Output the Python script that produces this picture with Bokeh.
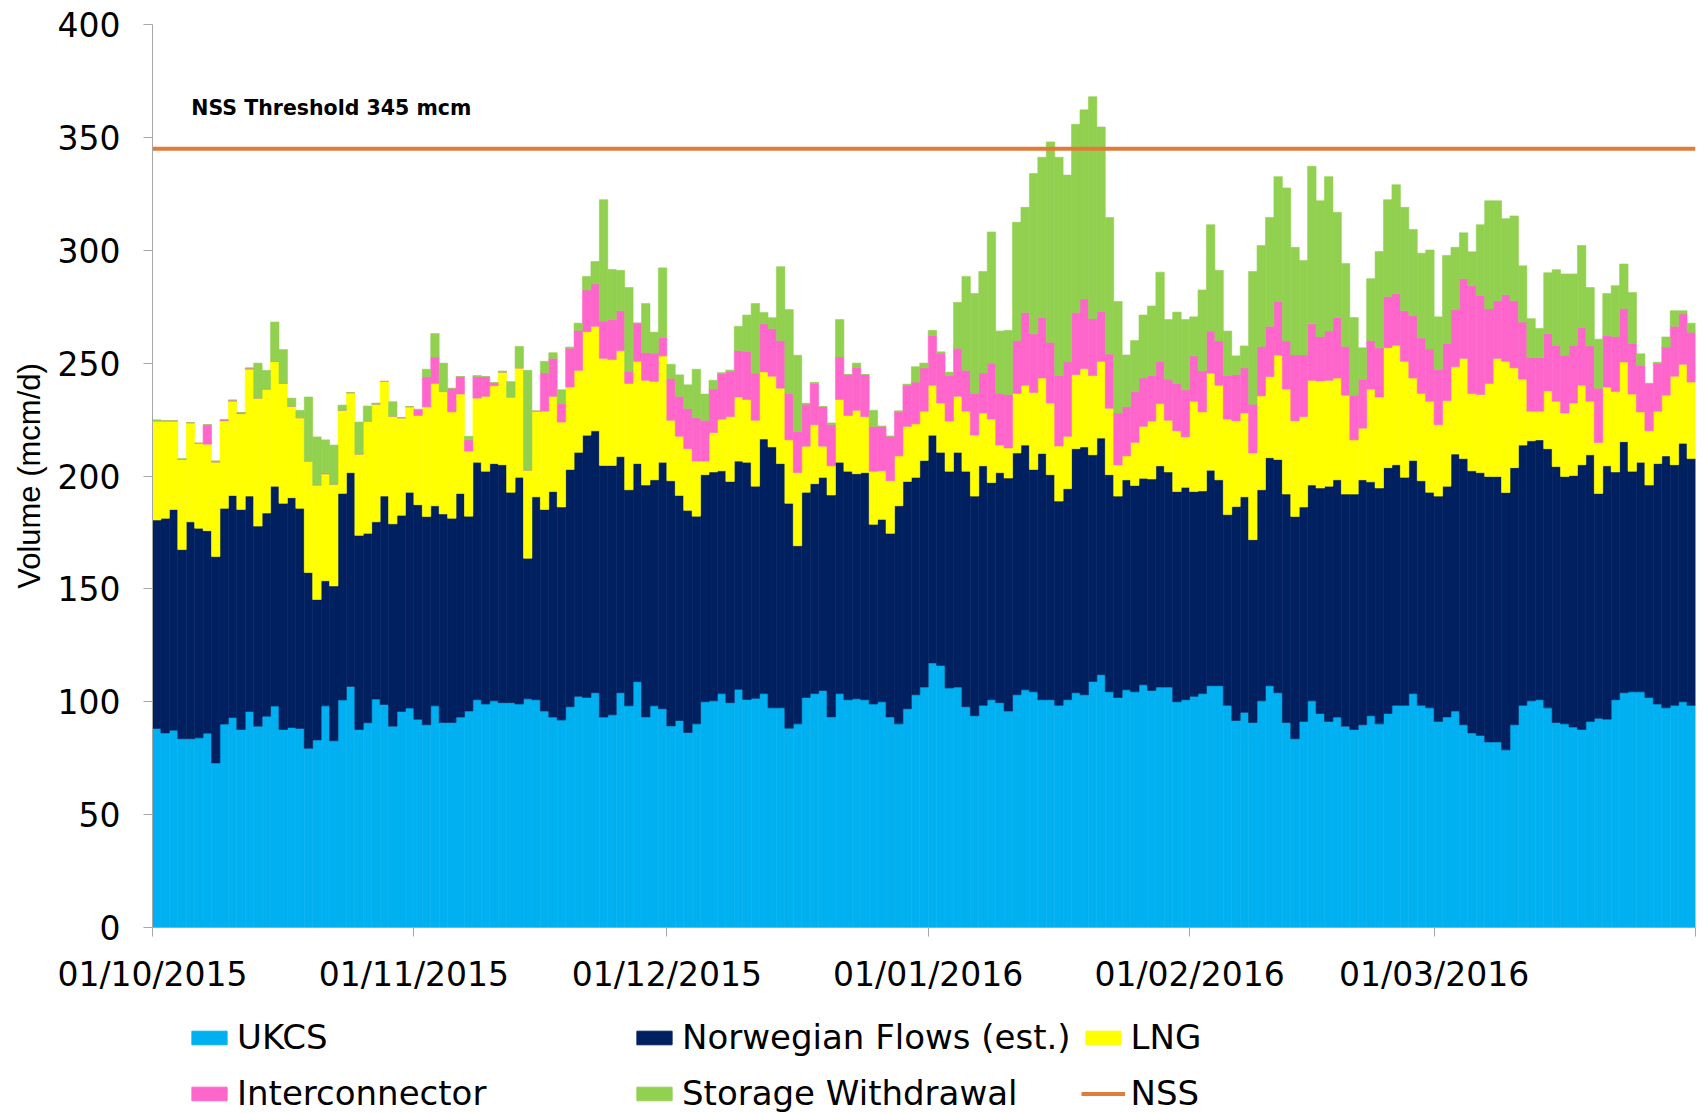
import numpy as np
from bokeh.plotting import figure
from bokeh.layouts import column
from bokeh.models import ColumnDataSource, FixedTicker, Range1d, Legend, LegendItem, Label
from bokeh.embed import file_html
from bokeh.resources import INLINE

# ---------------- data (mcm/d), daily 01/10/2015 .. 31/03/2016 ----------------
ukcs = [
    # Oct
    88.2, 86.2, 87.4, 83.6, 83.6, 84.0, 86.1, 72.9, 90.1, 93.0, 87.7, 95.7, 89.2, 93.6, 98.1, 87.7,
    88.6, 88.2, 79.4, 83.1, 98.2, 82.7, 100.8, 106.8, 87.7, 90.7, 101.2, 98.8, 89.2, 95.7, 97.2,
    # Nov
    92.2, 89.8, 98.2, 90.8, 90.8, 93.2, 95.9, 100.9, 99.0, 100.4, 99.6, 99.6, 99.0, 101.3, 100.9,
    95.9, 93.2, 91.9, 97.8, 102.4, 101.9, 104.0, 93.2, 94.2, 104.0, 98.2, 108.9, 93.3, 98.2, 96.9,
    # Dec
    89.3, 91.7, 86.4, 90.2, 100.0, 100.4, 103.6, 99.6, 105.5, 101.0, 101.5, 103.6, 97.3, 97.3, 88.3,
    90.2, 101.9, 103.6, 105.0, 93.3, 103.6, 100.9, 101.3, 100.9, 99.0, 100.0, 93.3, 90.2, 96.9, 103.1, 106.5,
    # Jan
    117.2, 116.1, 106.1, 106.5, 97.8, 93.8, 98.4, 100.9, 99.6, 95.9, 103.1, 105.3, 104.4, 100.9, 100.9,
    98.4, 100.9, 104.0, 103.1, 109.0, 112.0, 104.4, 101.9, 105.3, 104.4, 107.5, 105.0, 106.5, 106.5, 100.0, 100.9,
    # Feb
    102.4, 103.6, 107.1, 107.1, 98.4, 91.7, 95.3, 90.8, 100.4, 107.1, 104.0, 90.8, 83.6, 91.3, 100.4,
    94.8, 91.3, 93.2, 89.2, 87.7, 89.8, 93.8, 90.2, 94.8, 98.4, 98.4, 103.6, 98.4, 97.3,
    # Mar
    91.3, 93.3, 95.9, 89.8, 86.2, 85.1, 82.2, 82.2, 78.7, 89.8, 98.4, 100.4, 100.9, 97.3, 90.8, 90.2,
    88.8, 87.7, 91.3, 92.7, 92.3, 100.9, 104.0, 104.4, 104.4, 101.9, 99.0, 97.3, 98.4, 100.0, 98.4,
]

norwegian = [
    92.3, 95.1, 97.8, 83.8, 96.1, 92.9, 89.7, 91.4, 95.6, 98.4, 97.5, 95.4, 88.6, 90.0, 97.4, 100.2,
    101.8, 97.5, 77.9, 62.2, 55.4, 68.6, 91.5, 94.7, 86.0, 83.9, 78.5, 92.3, 89.6, 86.9, 95.6,
    95.1, 92.3, 88.6, 92.4, 90.5, 99.1, 86.3, 105.2, 103.1, 105.1, 105.4, 93.2, 100.4, 62.3, 89.9,
    89.3, 99.9, 94.4, 105.1, 108.1, 116.2, 116.0, 111.5, 110.5, 104.6, 95.7, 96.6, 102.7, 100.1, 109.2,
    108.6, 99.7, 98.4, 92.0, 100.6, 101.4, 98.7, 98.0, 101.1, 105.1, 94.0, 112.8, 115.6, 108.2, 99.6,
    78.9, 90.9, 93.0, 94.4, 98.3, 102.5, 101.2, 99.7, 100.6, 79.6, 80.8, 81.3, 96.6, 100.7, 96.3, 100.4,
    100.9, 94.4, 96.0, 104.0, 104.3, 97.3, 106.1, 96.2, 101.9, 103.2, 107.1, 108.4, 98.5, 109.1, 99.7,
    90.5, 93.5, 108.1, 109.8, 100.4, 104.8, 96.2, 89.2, 93.0, 91.4, 91.5, 93.7, 98.0, 95.3, 93.1, 94.1,
    90.7, 89.8, 95.5, 91.2, 84.5, 94.8, 95.5, 81.0, 93.5, 101.0, 103.3, 101.2, 98.5, 95.0, 95.6,
    99.9, 104.2, 105.1, 102.8, 104.3, 108.5, 103.6, 104.5, 108.9, 106.6, 101.0, 103.3, 99.5, 95.5,
    99.8, 102.2, 113.8, 117.9, 116.1, 116.4, 117.6, 117.6, 114.0, 113.9, 115.3, 115.2, 115.1, 114.8, 113.4,
    109.6, 111.4, 117.3, 118.1, 99.6, 112.2, 100.9, 111.2, 97.7, 101.7, 94.1, 106.5, 111.6, 106.6, 114.5, 109.3,
]

lng = [
    43.9, 43.1, 39.2, 39.9, 43.9, 37.6, 38.3, 41.9, 38.7, 41.7, 42.4, 56.2, 56.7, 54.9, 55.3, 53.1,
    40.5, 40.1, 49.3, 50.7, 47.3, 45.0, 36.8, 35.4, 36.0, 49.7, 52.1, 50.8, 47.7, 43.2, 37.9,
    39.5, 48.5, 54.2, 54.2, 47.1, 44.0, 28.8, 28.4, 33.2, 34.5, 41.0, 42.2, 48.5, 39.0, 37.9,
    43.5, 42.2, 37.6, 36.5, 36.3, 45.8, 46.3, 47.4, 46.9, 46.9, 47.1, 45.3, 46.4, 43.6, 47.1,
    26.8, 26.2, 27.3, 24.4, 6.0, 17.4, 22.9, 28.7, 28.4, 27.8, 29.2, 29.7, 31.3, 33.4, 28.1,
    32.4, 20.4, 26.1, 13.8, 12.9, 27.8, 24.7, 28.1, 24.8, 23.5, 21.5, 23.3, 22.1, 24.4, 23.7, 21.8,
    22.1, 21.8, 22.2, 24.8, 26.6, 27.0, 23.4, 28.1, 12.2, 13.3, 26.4, 26.5, 34.1, 33.4, 31.7,
    24.4, 23.2, 32.8, 34.7, 35.1, 34.0, 29.4, 13.8, 10.6, 19.1, 23.0, 25.6, 27.6, 22.9, 26.9, 22.3,
    40.0, 35.0, 43.0, 41.9, 42.3, 37.9, 37.1, 38.4, 41.6, 35.9, 46.2, 46.5, 42.3, 40.0, 46.4,
    47.4, 46.9, 45.1, 43.8, 24.0, 22.9, 41.1, 40.3, 53.1, 52.9, 51.4, 36.5, 38.7, 40.3,
    31.6, 37.9, 38.7, 44.4, 34.3, 34.6, 41.2, 52.3, 58.1, 44.2, 29.2, 13.1, 12.7, 25.6, 28.9,
    28.1, 32.1, 35.2, 23.7, 22.5, 34.9, 35.6, 35.3, 34.2, 22.3, 24.0, 23.2, 26.9, 39.2, 35.0, 33.9,
]

interconnector = [
    0, 0, 0, 0, 0, 0, 8.6, 0, 0.5, 0.5, 0.5, 0.5, 0, 0, 0, 0,
    0, 0, 0, 0, 0.5, 0, 0, 0, 0, 0, 0, 0, 0, 0, 0,
    2.7, 13.4, 11.7, 0, 10.4, 7.7, 5.0, 9.5, 8.7, 1.3, 0, 0, 0, 0, 0,
    17.0, 16.8, 8.2, 17.2, 17.7, 18.5, 18.8, 16.5, 17.7, 17.7, 5.4, 16.9, 12.3, 12.5, 8.2,
    18.5, 17.7, 17.8, 19.2, 18.1, 19.3, 20.1, 20.1, 20.5, 21.3, 20.9, 21.3, 21.1, 21.1, 20.6,
    18.2, 18.6, 18.3, 17.5, 18.3, 18.8, 18.1, 19.0, 18.6, 19.9, 19.7, 19.7, 19.5, 18.2, 18.5, 19.2,
    22.0, 22.1, 20.2, 21.3, 18.1, 18.5, 17.7, 24.8, 22.9, 23.7, 23.4, 32.2, 26.0, 26.8, 26.9,
    31.2, 32.9, 27.5, 30.8, 25.2, 22.1, 24.0, 23.0, 21.8, 22.5, 21.4, 20.2, 18.7, 18.2, 21.0, 20.9,
    20.1, 18.2, 18.6, 19.6, 19.3, 20.5, 20.0, 21.6, 21.9, 22.3, 23.8, 21.3, 29.2, 27.3, 25.0,
    19.7, 21.8, 26.8, 21.6, 19.8, 21.7, 21.5, 21.8, 22.7, 22.9, 22.4, 27.6, 24.5, 23.2,
    24.5, 25.3, 25.3, 35.3, 47.7, 43.9, 33.0, 25.5, 29.5, 29.7, 25.3, 23.7, 23.7, 25.4, 24.8,
    25.6, 25.6, 25.6, 24.5, 24.1, 22.8, 24.4, 23.7, 22.4, 20.7, 21.0, 21.3, 21.3, 22.1, 22.3, 22.1,
]

storage = [
    0.5, 0, 0, 0.5, 0, 0, 0, 0.5, 0, 0, 0, 0, 15.5, 8.3, 17.4, 15.0,
    3.6, 3.3, 28.4, 21.3, 14.6, 17.4, 2.3, 0, 14.2, 6.7, 0.5, 0, 6.4, 0, 0,
    0, 3.3, 10.4, 12.6, 0, 0, 1.6, 0.5, 0, 0, 0.5, 6.8, 9.5, 44.2, 0,
    5.1, 2.5, 6.1, 0.5, 3.2, 6.0, 9.9, 53.8, 22.2, 17.9, 37.1, 0, 21.7, 9.3, 30.8,
    6.3, 9.5, 10.5, 21.5, 11.6, 3.9, 0.5, 0.5, 10.8, 16.1, 30.8, 5.0, 4.8, 32.7, 37.1,
    33.8, 0.4, 0.5, 0, 0.7, 16.6, 0, 1.9, 0, 7.1, 0, 0, 0.5, 0.5, 6.8, 2.1,
    2.3, 0.6, 1.5, 20.3, 41.6, 44.2, 45.0, 58.1, 27.6, 28.4, 52.4, 46.6, 71.0, 71.0, 88.8,
    96.7, 82.8, 83.4, 83.8, 98.3, 81.7, 60.5, 49.4, 22.9, 22.6, 27.9, 30.8, 39.5, 26.4, 31.6, 31.1,
    17.3, 35.8, 47.1, 31.3, 19.7, 8.3, 9.7, 58.8, 44.7, 48.2, 55.3, 67.8, 47.7, 41.9, 69.8,
    60.1, 68.4, 46.6, 36.7, 34.4, 13.9, 27.4, 42.6, 42.9, 48.2, 45.8, 38.2, 37.6, 43.8,
    23.3, 39.0, 27.6, 20.3, 15.0, 31.3, 47.9, 44.3, 33.7, 37.6, 24.9, 17.3, 12.9, 26.9, 33.5,
    36.0, 31.6, 36.3, 25.9, 21.7, 18.6, 22.5, 19.7, 22.6, 5.0, 0, 0.4, 4.5, 6.9, 1.4, 4.0,
]

nss_threshold = 345
series_names = ["UKCS", "Norwegian Flows (est.)", "LNG", "Interconnector", "Storage Withdrawal"]
nss_name = "NSS"
tick_days = [0, 31, 61, 92, 123, 152, 183]
tick_labels = ["01/10/2015", "01/11/2015", "01/12/2015", "01/01/2016", "01/02/2016", "01/03/2016", ""]
y_ticks = [0, 50, 100, 150, 200, 250, 300, 350, 400]

# ---------------- styling ----------------
colors = ["#00B0F0", "#002060", "#FFFF00", "#FF66CC", "#92D050"]
nss_color = "#E07B39"
axis_gray = "#A6A6A6"
tick_font = "DejaVu Sans"

n = len(ukcs)
source = ColumnDataSource(dict(
    x=np.arange(n) + 0.5,
    ukcs=ukcs, nor=norwegian, lng=lng, ic=interconnector, sw=storage,
))

p = figure(width=1700, height=1010, title=None,
           x_range=Range1d(0, n), y_range=Range1d(0, 400),
           output_backend="svg", toolbar_location=None,
           min_border_left=152, min_border_right=5, min_border_top=24, min_border_bottom=83)

bars = p.vbar_stack(["ukcs", "nor", "lng", "ic", "sw"], x="x", width=1.0,
                    color=colors, line_width=0.6, source=source)

nss_line = p.line(x=[0, n], y=[nss_threshold, nss_threshold], line_color=nss_color, line_width=4)

p.add_layout(Label(x=4.6, y=363, text="NSS Threshold 345 mcm", text_font="DejaVu Sans",
                   text_font_style="bold", text_font_size="20.5px", text_baseline="middle",
                   text_color="#000000"))

# axes
p.xaxis.ticker = FixedTicker(ticks=tick_days)
p.xaxis.major_label_overrides = {d: lab for d, lab in zip(tick_days, tick_labels)}
p.yaxis.ticker = FixedTicker(ticks=y_ticks)
for ax in (p.xaxis, p.yaxis):
    ax.axis_line_color = axis_gray
    ax.major_tick_line_color = axis_gray
    ax.minor_tick_line_color = None
    ax.major_tick_out = 9
    ax.major_tick_in = 0
    ax.major_label_text_font = tick_font
    ax.major_label_text_font_size = "33px"
    ax.major_label_text_color = "#000000"
p.xaxis.major_label_standoff = 18
p.yaxis.major_label_standoff = 23
p.yaxis.axis_label = "Volume (mcm/d)"
p.yaxis.axis_label_text_font = "Liberation Sans"
p.yaxis.axis_label_text_font_size = "31px"
p.yaxis.axis_label_text_font_style = "normal"
p.yaxis.axis_label_text_color = "#000000"
p.yaxis.axis_label_standoff = 8

p.xgrid.visible = False
p.ygrid.visible = False
p.outline_line_color = None

# ---------------- legend (separate strip below the chart) ----------------
p_leg = figure(width=1700, height=103, title=None,
               x_range=Range1d(0, 1), y_range=Range1d(0, 1),
               output_backend="svg", toolbar_location=None,
               x_axis_location=None, y_axis_location=None,
               min_border_left=152, min_border_right=5, min_border_top=1, min_border_bottom=0)
p_leg.outline_line_color = None
p_leg.xgrid.visible = False
p_leg.ygrid.visible = False
# legend proxies: one point each, placed outside the strip's visible range
proxy_src = ColumnDataSource(dict(x=[-10.0], top=[-10.0], y=[-10.0]))
proxies = [p_leg.vbar(x="x", top="top", width=1, fill_color=c, line_color=c, source=proxy_src)
           for c in colors]
proxy_line = p_leg.line(x="x", y="y", line_color=nss_color, line_width=4, source=proxy_src)

items = [LegendItem(label=name, renderers=[r]) for name, r in zip(series_names, proxies)]
items.append(LegendItem(label=nss_name, renderers=[proxy_line]))
legend = Legend(items=items, location=(35, -3), orientation="horizontal", ncols=3,
                glyph_width=44, glyph_height=17, label_standoff=6,
                label_width=385, label_height=46, spacing=10,
                padding=0, margin=0, border_line_alpha=0, background_fill_alpha=0,
                label_text_font="DejaVu Sans", label_text_font_size="34px",
                label_text_color="#000000")
p_leg.add_layout(legend, "center")

layout = column(p, p_leg, spacing=0)
open("out.html", "w").write(file_html(layout, INLINE))
